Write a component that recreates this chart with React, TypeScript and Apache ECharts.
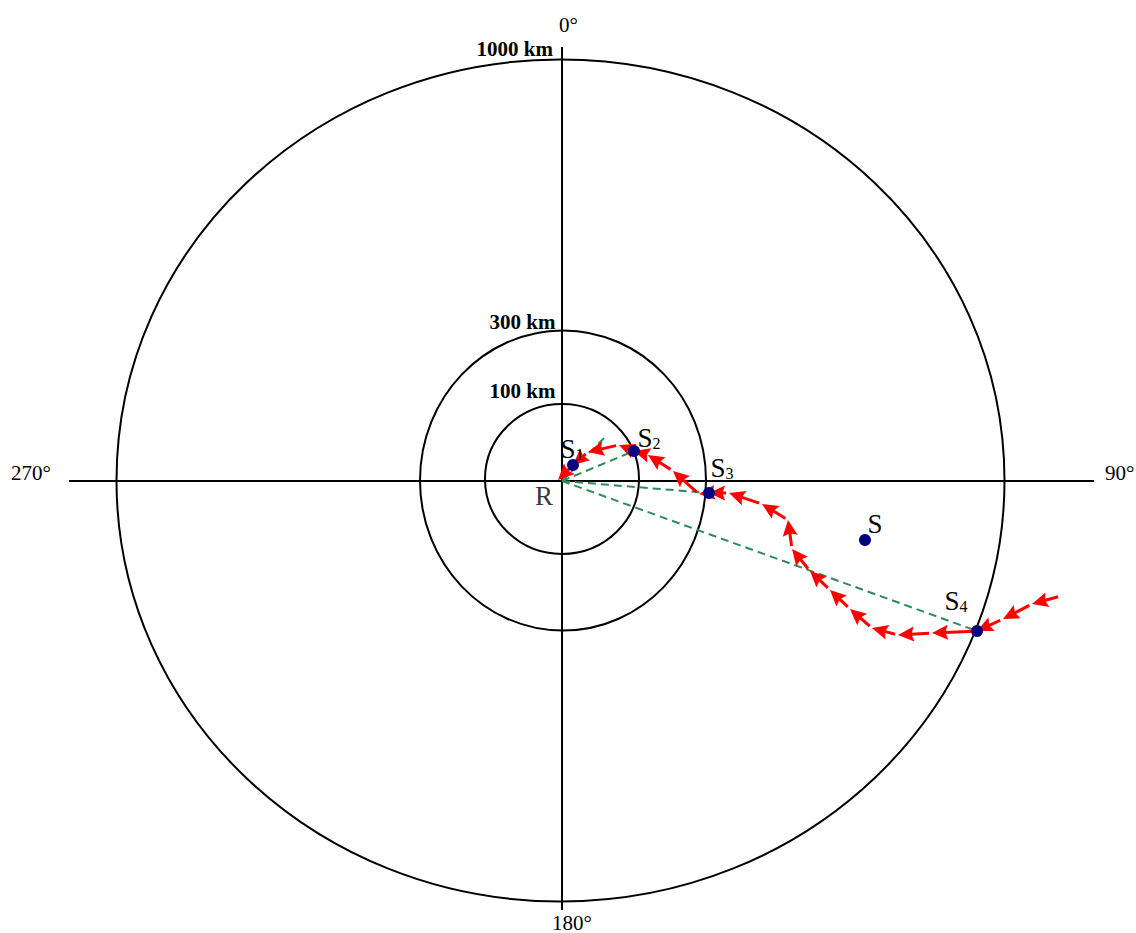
import React, { useEffect, useRef } from "react";
import * as echarts from "echarts";

// Plot units: centred on the radar site R, x to the east, y to the north.
const ringLabels = ["100 km", "300 km", "1000 km"];
const ringRadiusX = [77, 143, 444];
const ringRadiusY = [75, 150, 421];
const ringCenterX = [0, 1, -1.5];
const ringCenterY = [2, 0.5, 0.5];

// cross (axes) arm ends
const crossWest = -493;
const crossEast = 532;
const crossNorth = 434;
const crossSouth = -429;

// storm track (in time order, ending at R)
const trackX = [499, 470, 441, 415, 370, 336, 310, 288, 268, 248, 230, 226, 200, 167, 147, 137, 111, 86, 72, 57, 26, 11, -4];
const trackY = [-115, -123, -138, -150, -152, -154, -147, -128, -109, -90, -68, -39, -23, -12, -12, -13, 10, 26, 30, 36, 29, 16, 1];

// named positions
const pointNames = ["S1", "S2", "S3", "S4", "S"];
const pointSub = ["1", "2", "3", "4", ""];
const pointX = [11, 72, 147, 415, 303];
const pointY = [16, 30, -12, -150, -59];

// dashed guide lines from R
const guideX = [44, 72, 147, 415];
const guideY = [45, 30, -12, -150];

const degreeLabels = ["0°", "90°", "180°", "270°"];

// label offsets (style)
const labelOffsets = [
  [-12.5, -3],
  [3.5, 0],
  [1.5, -12],
  [-32.5, -17],
  [2.5, -3],
];

const SERIF = "'Liberation Serif', 'Times New Roman', serif";

export default function App() {
  const ref = useRef<HTMLDivElement>(null);
  useEffect(() => {
    if (!ref.current) return;
    const chart = echarts.init(ref.current, null, { renderer: "svg" });

    const ringData = ringRadiusX.map((rx, i) => [ringCenterX[i], ringCenterY[i], rx, ringRadiusY[i]]);
    const segData: number[][] = [];
    for (let i = 0; i < trackX.length - 1; i++) {
      segData.push([trackX[i], trackY[i], trackX[i + 1], trackY[i + 1]]);
    }

    const richStyle = {
      s: { fontFamily: SERIF, fontSize: 27, color: "#000", verticalAlign: "bottom", textBorderWidth: 0 },
      sub: { fontFamily: SERIF, fontSize: 16, color: "#000", verticalAlign: "bottom", textBorderWidth: 0 },
    };

    const baseLabel = {
      show: true,
      position: "inside",
      align: "left",
      verticalAlign: "bottom",
      color: "#000",
      textBorderWidth: 0,
      textBorderColor: "transparent",
      rich: richStyle,
    };

    const option: any = {
      animation: false,
      backgroundColor: "#ffffff",
      grid: { left: 0, right: 0, top: 0, bottom: 0, containLabel: false },
      xAxis: { type: "value", min: -562, max: 574, show: false },
      yAxis: { type: "value", min: -452, max: 481, show: false },
      graphic: [
        { type: "text", x: 553, y: 48.5, style: { text: ringLabels[2], font: `bold 21px ${SERIF}`, fill: "#000", textAlign: "right", textVerticalAlign: "middle" } },
        { type: "text", x: 555.5, y: 321.5, style: { text: ringLabels[1], font: `bold 21px ${SERIF}`, fill: "#000", textAlign: "right", textVerticalAlign: "middle" } },
        { type: "text", x: 555.5, y: 391, style: { text: ringLabels[0], font: `bold 21px ${SERIF}`, fill: "#000", textAlign: "right", textVerticalAlign: "middle" } },
        { type: "text", x: 559, y: 25, style: { text: degreeLabels[0], font: `21px ${SERIF}`, fill: "#000", textAlign: "left", textVerticalAlign: "middle" } },
        { type: "text", x: 1105, y: 472.5, style: { text: degreeLabels[1], font: `21px ${SERIF}`, fill: "#000", textAlign: "left", textVerticalAlign: "middle" } },
        { type: "text", x: 552, y: 922.5, style: { text: degreeLabels[2], font: `21px ${SERIF}`, fill: "#000", textAlign: "left", textVerticalAlign: "middle" } },
        { type: "text", x: 11, y: 472.5, style: { text: degreeLabels[3], font: `21px ${SERIF}`, fill: "#000", textAlign: "left", textVerticalAlign: "middle" } },
      ],
      series: [
        {
          type: "custom",
          name: "rings",
          coordinateSystem: "cartesian2d",
          z: 1,
          silent: true,
          data: ringData,
          renderItem: (params: any, api: any) => {
            const c = api.coord([api.value(0), api.value(1)]);
            const rx = api.size([api.value(2), 0])[0];
            const ry = api.size([0, api.value(3)])[1];
            return {
              type: "ellipse",
              shape: { cx: c[0], cy: c[1], rx, ry },
              style: { fill: "none", stroke: "#000", lineWidth: 2 },
            };
          },
        },
        {
          type: "lines",
          name: "cross",
          coordinateSystem: "cartesian2d",
          z: 1,
          silent: true,
          symbol: ["none", "none"],
          lineStyle: { color: "#000", width: 2, opacity: 1, type: "solid" },
          data: [
            { coords: [[crossWest, 0], [crossEast, 0]] },
            { coords: [[0, crossNorth], [0, crossSouth]] },
          ],
        },
        {
          type: "lines",
          name: "guides",
          coordinateSystem: "cartesian2d",
          z: 2,
          silent: true,
          symbol: ["none", "none"],
          lineStyle: { color: "#2e8b57", width: 2, opacity: 1, type: [8, 5] },
          data: guideX.map((x, i) => ({ coords: [[0, 0], [x, guideY[i]]] })),
        },
        {
          type: "custom",
          name: "track",
          coordinateSystem: "cartesian2d",
          z: 3,
          silent: true,
          data: segData,
          renderItem: (params: any, api: any) => {
            const p1 = api.coord([api.value(0), api.value(1)]);
            const p2 = api.coord([api.value(2), api.value(3)]);
            const dx = p2[0] - p1[0];
            const dy = p2[1] - p1[1];
            const len = Math.hypot(dx, dy) || 1;
            const ux = dx / len;
            const uy = dy / len;
            const nx = -uy;
            const ny = ux;
            const L = 16;
            const W = 7.5;
            const gap = 3;
            const bx = p2[0] - ux * L;
            const by = p2[1] - uy * L;
            const children: any[] = [];
            if (len > L + gap) {
              children.push({
                type: "line",
                shape: { x1: p1[0] + ux * gap, y1: p1[1] + uy * gap, x2: bx + ux * 3, y2: by + uy * 3 },
                style: { stroke: "#ff0000", lineWidth: 3 },
              });
            }
            children.push({
              type: "polygon",
              shape: {
                points: [
                  [p2[0], p2[1]],
                  [bx + nx * W, by + ny * W],
                  [bx + ux * 2.5, by + uy * 2.5],
                  [bx - nx * W, by - ny * W],
                ],
              },
              style: { fill: "#ff0000" },
            });
            return { type: "group", children };
          },
        },
        {
          type: "scatter",
          name: "points",
          z: 4,
          symbol: "circle",
          symbolSize: 12,
          itemStyle: { color: "#000080", opacity: 1 },
          data: pointX.map((x, i) => ({
            name: pointNames[i],
            value: [x, pointY[i]],
            label: {
              ...baseLabel,
              offset: labelOffsets[i],
              formatter: pointSub[i] ? `{s|S}{sub|${pointSub[i]}}` : "{s|S}",
            },
          })),
        },
        {
          type: "scatter",
          name: "R",
          z: 4,
          symbolSize: 1,
          itemStyle: { color: "rgba(0,0,0,0)" },
          data: [
            {
              name: "R",
              value: [0, 0],
              label: {
                ...baseLabel,
                offset: [-27, 28.5],
                formatter: "{s|R}",
              },
            },
          ],
        },
      ],
    };
    chart.setOption(option);
    return () => chart.dispose();
  }, []);

  return (
    <div
      ref={ref}
      style={{ position: "absolute", left: 0, top: 0, width: 1136, height: 933, background: "#fff" }}
    />
  );
}
